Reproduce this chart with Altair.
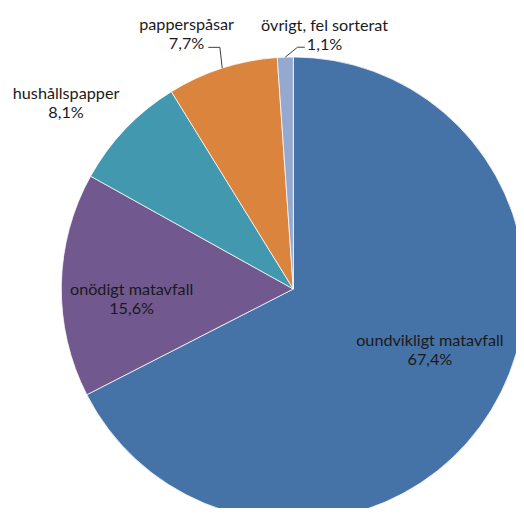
import math
import altair as alt
import pandas as pd

# ---- data ----
categories = ["oundvikligt matavfall", "onödigt matavfall", "hushållspapper",
              "papperspåsar", "övrigt, fel sorterat"]
values = [67.4, 15.6, 8.1, 7.7, 1.1]
pct_labels = ["67,4%", "15,6%", "8,1%", "7,7%", "1,1%"]

# ---- style ----
colors = ["#4572A7", "#71588F", "#4198AF", "#DB843D", "#93A9CF"]
W, H = 508, 500
CX, CY = 285.3, 281.0
R = 232
label_shift_deg = [-7.3, -4.6, -4.5, -4.9, 9.0]
label_r = [149.7, 162.0, 293.2, 276.1, 255.7]
# leader line: (end offset, elbow offset) relative to label centre
leader_offsets = {3: ((21.7, 13.0), (33.3, 13.0)),
                  4: ((-19.7, 12.0), (-27.0, 12.0))}
FONT = "Lato"
FS = 16.2
LH = 19

total = sum(values)
mids = []
cum = 0.0
for v in values:
    mids.append((cum + v / 2) / total * 2 * math.pi)
    cum += v

df = pd.DataFrame({"cat": categories, "value": values, "idx": list(range(len(values)))})

lab_theta = [m + math.radians(s) for m, s in zip(mids, label_shift_deg)]
tdf = pd.DataFrame({
    "label": [c + "\n" + p for c, p in zip(categories, pct_labels)],
    "theta": lab_theta,
    "r": label_r,
})

rows = []
for i, ((ex, ey), (bx, by)) in leader_offsets.items():
    lx = CX + label_r[i] * math.sin(lab_theta[i])
    ly = CY - label_r[i] * math.cos(lab_theta[i])
    px = CX + R * math.sin(mids[i])
    py = CY - R * math.cos(mids[i])
    rows += [
        {"lid": i, "o": 0, "x": lx + ex, "y": ly + ey},
        {"lid": i, "o": 1, "x": lx + bx, "y": ly + by},
        {"lid": i, "o": 2, "x": px, "y": py},
    ]
ldf = pd.DataFrame(rows)

arcs = alt.Chart(df).mark_arc(radius=R, stroke="white", strokeWidth=0.75).encode(
    theta=alt.Theta("value:Q", stack=True),
    color=alt.Color("cat:N", scale=alt.Scale(domain=categories, range=colors), legend=None),
    order=alt.Order("idx:Q"),
    x=alt.value(CX),
    y=alt.value(CY),
)

lines = alt.Chart(ldf).mark_line(color="#404040", strokeWidth=1).encode(
    x=alt.X("x:Q", scale=None, axis=None),
    y=alt.Y("y:Q", scale=None, axis=None),
    detail="lid:N",
    order="o:Q",
)

texts = alt.Chart(tdf).mark_text(
    lineBreak="\n", font=FONT, fontSize=FS, lineHeight=LH, dy=-LH / 2,
    color="#1a1a1a", align="center", baseline="middle",
).encode(
    theta=alt.Theta("theta:Q", scale=None),
    radius=alt.Radius("r:Q", scale=None),
    text="label:N",
    x=alt.value(CX),
    y=alt.value(CY),
)

chart = alt.layer(arcs, lines, texts).properties(
    width=W, height=H, autosize="none", padding=0
).configure_view(stroke=None)

chart.save("out.html", embed_options={"renderer": "svg", "actions": False})
